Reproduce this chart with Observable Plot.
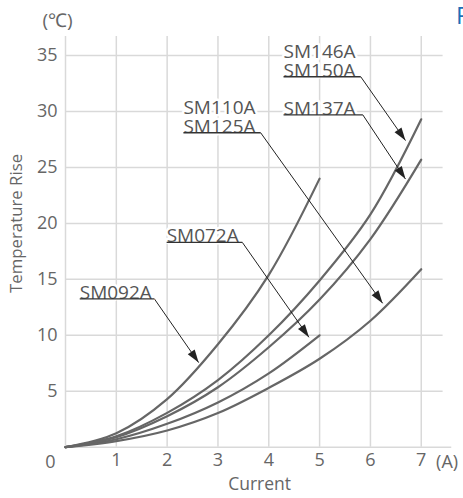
<!DOCTYPE html>
<html><head><meta charset="utf-8">
<script src="https://cdn.jsdelivr.net/npm/d3@7"></script>
<script src="https://cdn.jsdelivr.net/npm/@observablehq/plot@0.6"></script>
<style>
html,body{margin:0;padding:0;background:#fff;}
#chart{position:relative;width:463px;height:498px;overflow:hidden;}
#corner{position:absolute;left:456px;top:-2px;font:24px "Open Sans",sans-serif;color:#1d6fb8;}
</style></head><body>
<div id="chart"><div id="corner">R</div></div>
<script>
// ---- data ----
const current7 = [0, 1, 2, 3, 4, 5, 6, 7];
const current5 = [0, 1, 2, 3, 4, 5];
const riseSM092A = [0, 1.25, 4.3, 9.2, 15.4, 24.0];
const riseSM072A = [0, 0.71, 2.09, 4.0, 6.6, 10.0];
const riseSM146A = [0, 0.98, 3.07, 6.0, 10.0, 14.9, 20.8, 29.3];
const riseSM137A = [0, 0.9, 2.77, 5.36, 8.93, 13.2, 18.6, 25.7];
const riseSM110A = [0, 0.54, 1.49, 3.05, 5.3, 7.9, 11.3, 15.9];
const xTicks = [1, 2, 3, 4, 5, 6, 7];
const yTicks = [5, 10, 15, 20, 25, 30, 35];
const labels = ["SM092A", "SM072A", "SM110A\nSM125A", "SM137A", "SM146A\nSM150A"];
const labelX1 = [0.28, 1.99, 2.32, 4.29, 4.29];
const labelX2 = [1.75, 3.48, 3.84, 5.85, 5.81];
const labelY = [13.25, 18.3, 28.1, 29.7, 33.1];
const tipX = [2.62, 4.79, 6.24, 6.69, 6.69];
const tipY = [7.56, 9.82, 12.86, 23.96, 27.4];

// ---- tables ----
const curves = [
  ...current5.map((c, i) => ({id: "SM092A", x: c, y: riseSM092A[i]})),
  ...current5.map((c, i) => ({id: "SM072A", x: c, y: riseSM072A[i]})),
  ...current7.map((c, i) => ({id: "SM146A", x: c, y: riseSM146A[i]})),
  ...current7.map((c, i) => ({id: "SM137A", x: c, y: riseSM137A[i]})),
  ...current7.map((c, i) => ({id: "SM110A", x: c, y: riseSM110A[i]}))
];
const notes = labels.map((t, i) => ({t, x1: labelX1[i], x2: labelX2[i], y: labelY[i], tx: tipX[i], ty: tipY[i]}));

const XD = [0, 7.43], YD = [0, 36.7];
const base = {
  width: 463, height: 498,
  marginLeft: 65, marginRight: 20.4, marginTop: 36, marginBottom: 51.3,
  x: {domain: XD}, y: {domain: YD},
  style: {fontFamily: "'Open Sans', sans-serif", fontSize: "17px", color: "#666", background: "transparent", overflow: "visible"}
};

const p0 = Plot.plot({...base, marks: [Plot.ruleY([0])]});
const sx = p0.scale("x"), sy = p0.scale("y");
const fx = sx.apply ? (v) => sx.apply(v) : d3.scaleLinear(sx.domain, sx.range);
const fy = sy.apply ? (v) => sy.apply(v) : d3.scaleLinear(sy.domain, sy.range);
notes.forEach(d => {
  const ux = fx(d.tx) - fx(d.x2), uy = fy(d.ty) - fy(d.y);
  d.angle = Math.atan2(ux, -uy) * 180 / Math.PI;
});

const head = {draw(ctx) { ctx.moveTo(0, 0); ctx.lineTo(-4.2, 13); ctx.lineTo(4.2, 13); ctx.closePath(); }};
const grid = "#d9d9d9";

const plot = Plot.plot({
  ...base,
  marks: [
    Plot.ruleX([0, ...xTicks], {y1: 0, y2: YD[1], stroke: grid, strokeWidth: 1.5}),
    Plot.ruleY(yTicks, {x1: 0, x2: XD[1], stroke: grid, strokeWidth: 1.5}),
    Plot.ruleY([0], {x1: 0, x2: 7.6, stroke: grid, strokeWidth: 1.5}),
    Plot.axisX(xTicks, {tickSize: 0, tickPadding: 6, label: null, fill: "#666", fontSize: 18}),
    Plot.axisY(yTicks, {tickSize: 0, tickPadding: 8, label: null, fill: "#666", fontSize: 18}),
    Plot.text(["0"], {x: 0, y: 0, dx: -15, dy: 15, fill: "#666", fontSize: 18}),
    Plot.text(["(A)"], {x: XD[1], y: 0, dx: -7, dy: 15, textAnchor: "start", fill: "#666", fontSize: 18}),
    Plot.text(["Current"], {x: 3.82, y: 0, dy: 37, fill: "#666", fontSize: 17.5}),
    Plot.text(["Temperature Rise"], {x: 0, y: 20, dx: -49, rotate: -90, fill: "#666", fontSize: 16.8}),
    Plot.text(["(℃)"], {frameAnchor: "top-left", textAnchor: "middle", lineAnchor: "middle", dx: -8, dy: -16, fill: "#666", fontSize: 19}),
    Plot.line(curves, {x: "x", y: "y", z: "id", curve: "catmull-rom", stroke: "#666", strokeWidth: 2.2}),
    Plot.link(notes, {x1: "x2", y1: "y", x2: "tx", y2: "ty", stroke: "#222", strokeWidth: 1}),
    Plot.dot(notes, {x: "tx", y: "ty", rotate: "angle", symbol: head, r: 5, fill: "#222", stroke: "none"}),
    Plot.text(notes, {x: "x1", y: "y", text: "t", textAnchor: "start", lineAnchor: "bottom", dy: 0, lineHeight: 1.0,
      fill: "#555", fontSize: 19, stroke: "white", strokeWidth: 5, paintOrder: "stroke"}),
    Plot.link(notes, {x1: "x1", x2: "x2", y1: "y", y2: "y", stroke: "#333", strokeWidth: 1.4})
  ]
});
document.getElementById("chart").prepend(plot);
plot.style.position = "absolute"; plot.style.left = "0"; plot.style.top = "0";
</script>
</body></html>
